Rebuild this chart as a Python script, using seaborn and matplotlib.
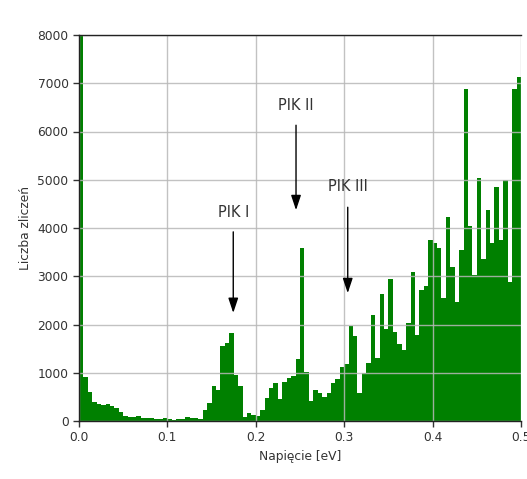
import numpy as np
import pandas as pd
import matplotlib
matplotlib.use("Agg")
import matplotlib.pyplot as plt
import seaborn as sns

# ---- data ----
bin_start = 0.0
bin_stop = 0.5
n_bins = 100
counts = [
    8600, 917, 607, 400, 352, 331, 345, 310, 262, 193,
    103, 90, 76, 103, 55, 62, 62, 48, 48, 69,
    34, 28, 34, 48, 76, 62, 62, 48, 228, 370,
    728, 648, 1550, 1607, 1828, 959, 724, 90, 159, 131,
    110, 228, 469, 683, 793, 462, 814, 890, 931, 1276,
    3593, 1021, 421, 641, 572, 490, 572, 793, 862, 1120,
    1180, 1972, 1772, 572, 1000, 1193, 2207, 1310, 2628, 1897,
    2938, 1848, 1586, 1469, 2021, 3090, 1779, 2710, 2793, 3745,
    3690, 3586, 2552, 4228, 3193, 2469, 3552, 6883, 4034, 3021,
    5041, 3366, 4366, 3690, 4848, 3745, 4986, 2883, 6883, 7138,
]
peak_labels = ["PIK I", "PIK II", "PIK III"]
peak_x = [0.1745, 0.2455, 0.3040]
peak_text_y = [4330, 6530, 4850]
peak_arrow_top = [3920, 6130, 4430]
peak_arrow_tip = [2240, 4370, 2650]
x_ticks = [0.0, 0.1, 0.2, 0.3, 0.4, 0.5]
y_ticks = [0, 1000, 2000, 3000, 4000, 5000, 6000, 7000, 8000]
x_label = "Napięcie [eV]"
y_label = "Liczba zliczeń"

binwidth = (bin_stop - bin_start) / n_bins
centers = bin_start + binwidth * (np.arange(n_bins) + 0.5)
df = pd.DataFrame({"x": centers, "w": counts})

sns.set_style("whitegrid")
plt.rcParams["font.family"] = ["DejaVu Sans"]

fig = plt.figure(figsize=(5.27, 4.79), dpi=100)
ax = fig.add_axes([79 / 527, 58 / 479, 442 / 527, 386 / 479])

sns.histplot(data=df, x="x", weights="w", binwidth=binwidth,
             binrange=(bin_start, bin_stop), color="#008000",
             alpha=1.0, linewidth=0, ax=ax, zorder=1)

ax.set_xlim(0, 0.5)
ax.set_ylim(0, 8000)
ax.set_xticks(x_ticks)
ax.set_xticklabels([f"{v:.1f}" for v in x_ticks])
ax.set_yticks(y_ticks)
ax.set_xlabel(x_label, fontsize=8.8, color="#333333")
ax.set_ylabel(y_label, fontsize=8.8, color="#333333")
ax.tick_params(axis="both", which="major", labelsize=8.8, colors="#333333",
               direction="out", length=4, width=1, left=True, bottom=True)
ax.set_axisbelow(False)
ax.grid(True, color="#b8b8b8", linewidth=1, alpha=0.85)
for gl in ax.get_xgridlines() + ax.get_ygridlines():
    gl.set_zorder(3)
for sp in ["left", "bottom", "top"]:
    ax.spines[sp].set_visible(True)
    ax.spines[sp].set_color("#222222")
    ax.spines[sp].set_linewidth(1)
    ax.spines[sp].set_zorder(4)
ax.spines["right"].set_visible(False)

for lab, px, ty, at, tip in zip(peak_labels, peak_x, peak_text_y, peak_arrow_top, peak_arrow_tip):
    ax.text(px, ty, lab, ha="center", va="center", fontsize=10.5, color="#333333", zorder=5)
    ax.annotate("", xy=(px, tip), xytext=(px, at), zorder=5,
                arrowprops=dict(arrowstyle="-|>,head_length=0.9,head_width=0.3",
                                color="black", lw=1, shrinkA=0, shrinkB=0))

fig.savefig("out.png", dpi=100)
